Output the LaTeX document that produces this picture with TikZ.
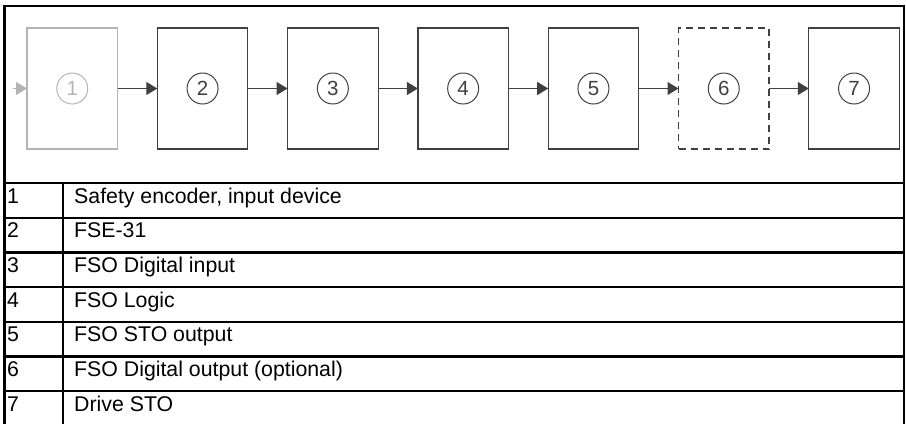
\documentclass[tikz,border=0pt]{standalone}
\usepackage{fontspec}
\setmainfont{Liberation Sans}
\usetikzlibrary{positioning,arrows.meta}
\definecolor{boxgray}{HTML}{404040}
\definecolor{ghostgray}{HTML}{B4B4B4}

\begin{document}
\begin{tikzpicture}[
    x=1pt,y=-1pt,
    every node/.style={font=\fontsize{21.3}{25}\selectfont},
    node distance=39.8pt,
    unit/.style={draw=boxgray, line width=1.2pt, minimum width=90.5pt, minimum height=121pt, inner sep=0pt, outer sep=0pt},
    ghost/.style={unit, draw=ghostgray},
    optional/.style={unit, dash pattern=on 7pt off 5pt},
    num/.style={circle, draw=boxgray, line width=1pt, minimum size=31pt, inner sep=0pt, text=boxgray, font=\fontsize{20.5}{24}\selectfont},
    link/.style={-{Triangle[length=11pt,width=13pt]}, draw=boxgray, line width=1.2pt},
    rule/.style={line width=2.2pt},
    entry/.style={anchor=base west, inner sep=0pt}
]
    \useasboundingbox (0,0) rectangle (906,424);

    % frame and table rules
    \draw[rule] (4.5,424) -- (4.5,6) -- (904,6) -- (904,424);
    \draw[rule] (4.5,183) -- (904,183);
    \draw[rule] (4.5,217.7) -- (904,217.7);
    \draw[rule] (4.5,252.4) -- (904,252.4);
    \draw[rule] (4.5,287.1) -- (904,287.1);
    \draw[rule] (4.5,321.8) -- (904,321.8);
    \draw[rule] (4.5,356.5) -- (904,356.5);
    \draw[rule] (4.5,391.2) -- (904,391.2);
    \draw[rule] (63,183) -- (63,424);

    % signal chain
    \node[ghost] (b1) at (72.25,88.5) {};
    \node[unit, right=of b1] (b2) {};
    \node[unit, right=of b2] (b3) {};
    \node[unit, right=of b3] (b4) {};
    \node[unit, right=of b4] (b5) {};
    \node[optional, right=of b5] (b6) {};
    \node[unit, right=of b6] (b7) {};

    \node[num, draw=ghostgray, text=ghostgray] (n1) at (b1.center) {1};
    \node[num] (n2) at (b2.center) {2};
    \node[num] (n3) at (b3.center) {3};
    \node[num] (n4) at (b4.center) {4};
    \node[num] (n5) at (b5.center) {5};
    \node[num] (n6) at (b6.center) {6};
    \node[num] (n7) at (b7.center) {7};

    \coordinate (src) at (13,88.5);
    \draw[link, draw=ghostgray] (src) -- (b1.west);
    \draw[link] (b1) -- (b2);
    \draw[link] (b2) -- (b3);
    \draw[link] (b3) -- (b4);
    \draw[link] (b4) -- (b5);
    \draw[link] (b5) -- (b6);
    \draw[link] (b6) -- (b7);

    % legend
    \node[entry] (k1) at (7,203) {1};
    \node[entry] (k2) at (7,237.7) {2};
    \node[entry] (k3) at (7,272.4) {3};
    \node[entry] (k4) at (7,307.1) {4};
    \node[entry] (k5) at (7,341.8) {5};
    \node[entry] (k6) at (7,376.5) {6};
    \node[entry] (k7) at (7,411.2) {7};

    \node[entry] (t1) at (74,203) {Safety encoder, input device};
    \node[entry] (t2) at (74,237.7) {FSE-31};
    \node[entry] (t3) at (74,272.4) {FSO Digital input};
    \node[entry] (t4) at (74,307.1) {FSO Logic};
    \node[entry] (t5) at (74,341.8) {FSO STO output};
    \node[entry] (t6) at (74,376.5) {FSO Digital output (optional)};
    \node[entry] (t7) at (74,411.2) {Drive STO};
\end{tikzpicture}
\end{document}
